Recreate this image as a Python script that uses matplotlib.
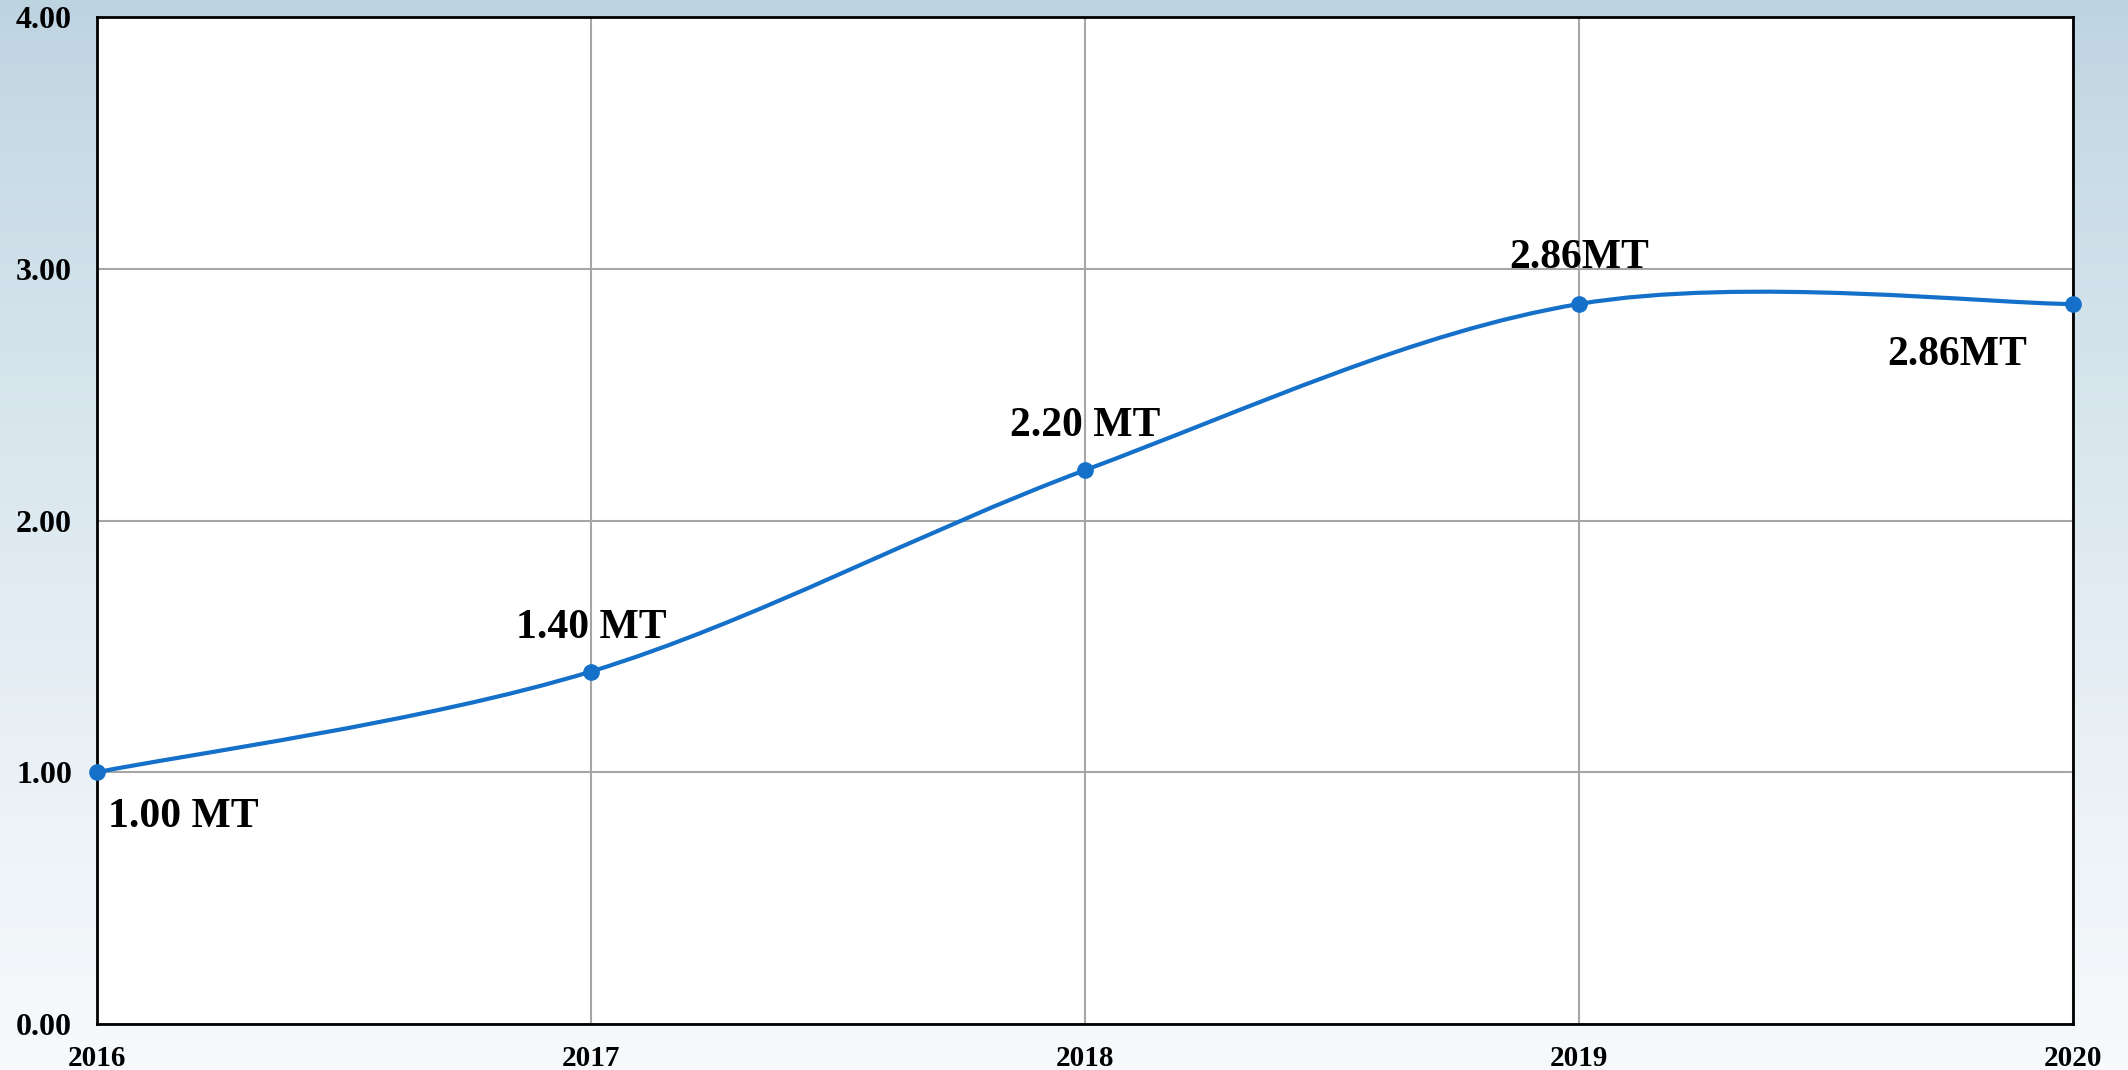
import numpy as np
import matplotlib
matplotlib.use("Agg")
import matplotlib.pyplot as plt
from matplotlib.path import Path
from matplotlib.patches import PathPatch

years = ["2016", "2017", "2018", "2019", "2020"]
values = [1.00, 1.40, 2.20, 2.86, 2.86]
labels = ["1.00 MT", "1.40 MT", "2.20 MT", "2.86MT", "2.86MT"]
yticks = [0.0, 1.0, 2.0, 3.0, 4.0]

LINE = "#1470c8"
FONT = "Liberation Serif"

fig = plt.figure(figsize=(21.28, 10.70), dpi=100)

# background gradient
bg = fig.add_axes([0, 0, 1, 1], zorder=-10)
grad = np.linspace(0, 1, 256)[:, None]
top = np.array([0.74, 0.83, 0.88])
bot = np.array([0.97, 0.98, 0.99])
img = top[None, None, :] * (1 - grad[:, :, None] ** 0.8) + bot[None, None, :] * (grad[:, :, None] ** 0.8)
bg.imshow(img, aspect="auto", extent=[0, 1, 1, 0])
bg.set_axis_off()

ax = fig.add_axes([97 / 2128, 1 - 1024 / 1070, (2073 - 97) / 2128, (1024 - 17) / 1070])
ax.set_facecolor("white")

x = np.arange(len(years))
y = np.array(values)

# Excel-style smoothed line (cubic Bezier, tension 1/6)
verts = [(x[0], y[0])]
codes = [Path.MOVETO]
n = len(x)
for i in range(n - 1):
    p0 = np.array([x[max(i - 1, 0)], y[max(i - 1, 0)]])
    p1 = np.array([x[i], y[i]])
    p2 = np.array([x[i + 1], y[i + 1]])
    p3 = np.array([x[min(i + 2, n - 1)], y[min(i + 2, n - 1)]])
    c1 = p1 + (p2 - p0) / 6
    c2 = p2 - (p3 - p1) / 6
    verts += [tuple(c1), tuple(c2), tuple(p2)]
    codes += [Path.CURVE4] * 3
ax.add_patch(PathPatch(Path(verts, codes), facecolor="none", edgecolor=LINE,
                       lw=3.0, zorder=3, clip_on=False))
ax.plot(x, y, linestyle="none", marker="o", markersize=11, color=LINE,
        zorder=4, clip_on=False)

ax.set_xlim(0, 4)
ax.set_ylim(0, 4)
ax.set_xticks(x)
ax.set_xticklabels(years)
ax.set_yticks(yticks)
ax.set_yticklabels([f"{v:.2f}" for v in yticks])
ax.tick_params(axis="both", length=0)
ax.tick_params(axis="y", pad=18)
ax.tick_params(axis="x", pad=15)
for lab in ax.get_xticklabels():
    lab.set_fontfamily(FONT); lab.set_fontweight("bold"); lab.set_fontsize(21)
for lab in ax.get_yticklabels():
    lab.set_fontfamily(FONT); lab.set_fontweight("bold"); lab.set_fontsize(23)

ax.grid(True, color="#a6a6a6", lw=1.5)
ax.set_axisbelow(True)
for s in ax.spines.values():
    s.set_color("black"); s.set_linewidth(2)

offsets = [(8, -32), (0, 31), (0, 32), (0, 33), (-33, -37)]
has = ["left", "center", "center", "center", "right"]
for xi, yi, lab, off, ha in zip(x, y, labels, offsets, has):
    ax.annotate(lab, (xi, yi), xytext=off, textcoords="offset points",
                ha=ha, va="center", fontsize=30, fontweight="bold",
                fontfamily=FONT, color="black", zorder=5)

fig.savefig("out.png", dpi=100)
